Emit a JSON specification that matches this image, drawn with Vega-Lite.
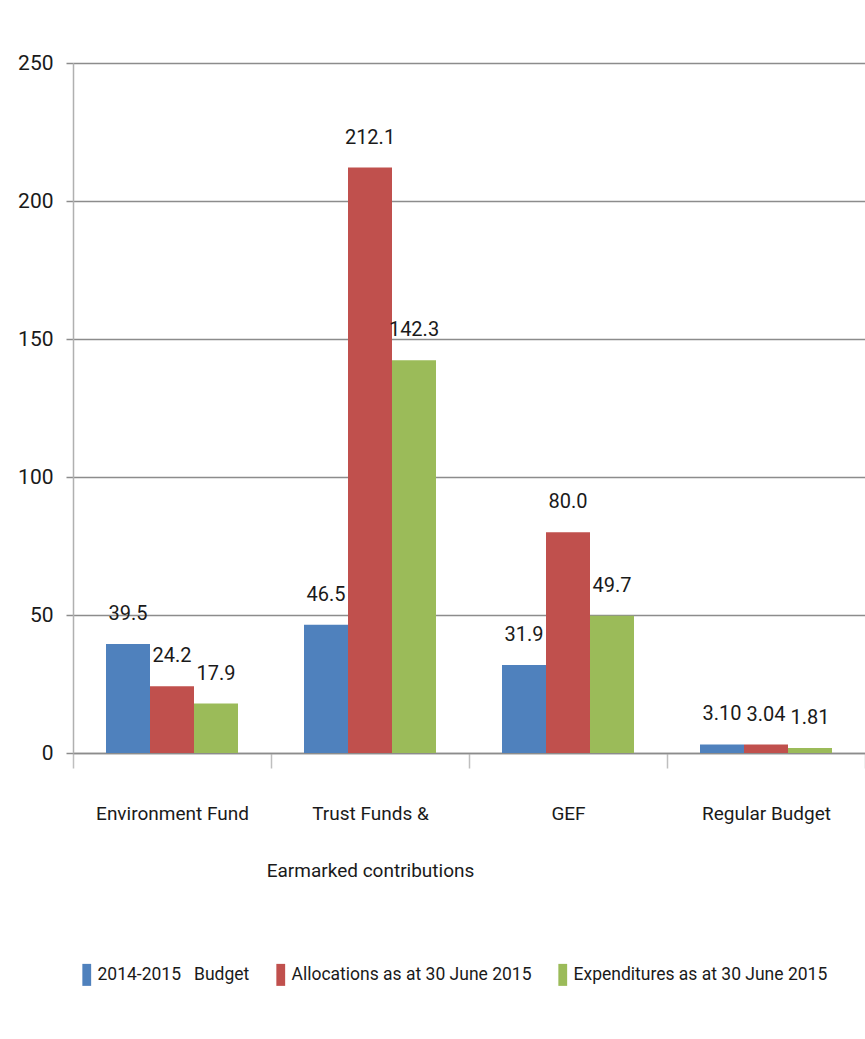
{
  "$schema": "https://vega.github.io/schema/vega-lite/v6.json",
  "width": 792,
  "height": 690,
  "autosize": {"type": "none"},
  "padding": {"left": 73, "top": 63, "right": 0, "bottom": 286},
  "background": "white",
  "config": {
    "view": {"stroke": null},
    "font": "Roboto",
    "text": {"font": "Roboto"}
  },
  "data": {
    "values": [
      {"fund": "Environment Fund", "series": "2014-2015 Budget", "value": 39.5, "label": "39.5"},
      {"fund": "Environment Fund", "series": "Allocations as at 30 June 2015", "value": 24.2, "label": "24.2"},
      {"fund": "Environment Fund", "series": "Expenditures as at 30 June 2015", "value": 17.9, "label": "17.9"},
      {"fund": "Trust Funds & Earmarked contributions", "series": "2014-2015 Budget", "value": 46.5, "label": "46.5"},
      {"fund": "Trust Funds & Earmarked contributions", "series": "Allocations as at 30 June 2015", "value": 212.1, "label": "212.1"},
      {"fund": "Trust Funds & Earmarked contributions", "series": "Expenditures as at 30 June 2015", "value": 142.3, "label": "142.3"},
      {"fund": "GEF", "series": "2014-2015 Budget", "value": 31.9, "label": "31.9"},
      {"fund": "GEF", "series": "Allocations as at 30 June 2015", "value": 80.0, "label": "80.0"},
      {"fund": "GEF", "series": "Expenditures as at 30 June 2015", "value": 49.7, "label": "49.7"},
      {"fund": "Regular Budget", "series": "2014-2015 Budget", "value": 3.10, "label": "3.10"},
      {"fund": "Regular Budget", "series": "Allocations as at 30 June 2015", "value": 3.04, "label": "3.04"},
      {"fund": "Regular Budget", "series": "Expenditures as at 30 June 2015", "value": 1.81, "label": "1.81"}
    ]
  },
  "encoding": {
    "x": {
      "field": "fund",
      "type": "nominal",
      "sort": ["Environment Fund", "Trust Funds & Earmarked contributions", "GEF", "Regular Budget"],
      "scale": {"paddingInner": 0, "paddingOuter": 0},
      "axis": {
        "title": null,
        "labelAngle": 0,
        "labelFontSize": 19,
        "labelColor": "#1a1a1a",
        "labelBaseline": "top",
        "labelPadding": 36,
        "labelLineHeight": 57,
        "labelLimit": 0,
        "labelExpr": "datum.label == 'Trust Funds & Earmarked contributions' ? ['Trust Funds &', 'Earmarked contributions'] : datum.label",
        "tickBand": "extent",
        "tickSize": 15,
        "tickColor": "#bfbfbf",
        "tickWidth": 1.5,
        "domainColor": "#8c8c8c",
        "domainWidth": 1.5
      }
    },
    "xOffset": {
      "field": "series",
      "type": "nominal",
      "sort": ["2014-2015 Budget", "Allocations as at 30 June 2015", "Expenditures as at 30 June 2015"],
      "scale": {"paddingInner": 0, "paddingOuter": 0.75}
    },
    "y": {
      "field": "value",
      "type": "quantitative",
      "scale": {"domain": [0, 250], "nice": false},
      "axis": {
        "title": null,
        "values": [0, 50, 100, 150, 200, 250],
        "grid": true,
        "gridColor": "#8c8c8c",
        "gridWidth": 1.5,
        "tickColor": "#8c8c8c",
        "tickWidth": 1.5,
        "tickSize": 7,
        "domainColor": "#b0b0b0",
        "domainWidth": 1.5,
        "labelFontSize": 21,
        "labelColor": "#1a1a1a",
        "labelPadding": 13
      }
    }
  },
  "layer": [
    {
      "mark": {"type": "bar"},
      "encoding": {
        "color": {
          "field": "series",
          "type": "nominal",
          "scale": {
            "domain": ["2014-2015 Budget", "Allocations as at 30 June 2015", "Expenditures as at 30 June 2015"],
            "range": ["#4F81BD", "#C0504D", "#9BBB59"]
          },
          "legend": {
            "orient": "none",
            "legendX": 5,
            "legendY": 903,
            "direction": "horizontal",
            "title": null,
            "padding": 0,
            "symbolType": "M-0.8,-2H0.8V2H-0.8Z",
            "symbolSize": 121,
            "symbolStrokeWidth": 0,
            "labelFontSize": 17.5,
            "labelColor": "#1a1a1a",
            "labelOffset": 2,
            "labelLimit": 0,
            "columnPadding": 22,
            "labelExpr": "replace(datum.label, '2015 Budget', '2015\u00a0\u00a0 Budget')"
          }
        }
      }
    },
    {
      "mark": {"type": "text", "baseline": "alphabetic", "dy": -24, "fontSize": 20, "color": "#1a1a1a"},
      "encoding": {
        "text": {"field": "label"}
      }
    }
  ]
}
